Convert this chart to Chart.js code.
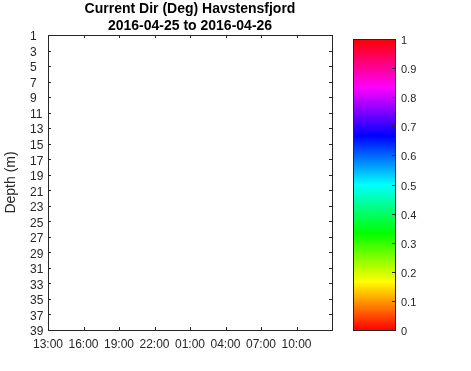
<!DOCTYPE html>
<html lang="en">
<head>
  <meta charset="UTF-8">
  <title>Current Dir (Deg) Havstensfjord</title>
  <script src="https://cdn.jsdelivr.net/npm/chart.js"></script>
  <style>
    html, body { margin: 0; padding: 0; background: #fff; }
    .wrap { position: relative; width: 471px; height: 371px; }
    #dirChart { position: absolute; left: 0; top: 0; }
    #cbarChart { position: absolute; left: 340px; top: 0; }
  </style>
</head>
<body>
  <div class="wrap">
    <canvas id="dirChart" width="471" height="371"></canvas>
    <canvas id="cbarChart" width="131" height="371"></canvas>
  </div>
  <script>
    // depth bins (m), hours after 13:00 on 2016-04-25, and tick labels
    const depths = [1, 3, 5, 7, 9, 11, 13, 15, 17, 19, 21, 23, 25, 27, 29, 31, 33, 35, 37, 39];
    const timeTicks = [0, 3, 6, 9, 12, 15, 18, 21, 24];
    const timeLabels = ['13:00', '16:00', '19:00', '22:00', '01:00', '04:00', '07:00', '10:00'];
    // no current direction values in this period
    const dirValues = [];
    const cbarTicks = [0, 0.1, 0.2, 0.3, 0.4, 0.5, 0.6, 0.7, 0.8, 0.9, 1];
    const hsvStops = ['#ff0000', '#ffff00', '#00ff00', '#00ffff', '#0000ff', '#ff00ff', '#ff0000'];

    const ink = '#262626';
    const font = 'Liberation Sans, Arial, Helvetica, sans-serif';

    // box around plot area with matlab-style inward ticks
    const boxPlugin = {
      id: 'box',
      afterDraw(chart, args, opts) {
        const { ctx, chartArea: a } = chart;
        ctx.save();
        ctx.strokeStyle = ink;
        ctx.lineWidth = 1;
        ctx.strokeRect(Math.round(a.left) + 0.5, Math.round(a.top) + 0.5,
          Math.round(a.right - a.left), Math.round(a.bottom - a.top));
        const len = 3;
        ctx.beginPath();
        if (opts.x) {
          const xs = chart.scales.x;
          xs.ticks.forEach(t => {
            if (t.value <= xs.min || t.value >= xs.max) return;
            const px = Math.round(xs.getPixelForValue(t.value)) + 0.5;
            ctx.moveTo(px, a.bottom); ctx.lineTo(px, a.bottom - len);
            ctx.moveTo(px, a.top); ctx.lineTo(px, a.top + len);
          });
        }
        const ys = chart.scales.y;
        ys.ticks.forEach(t => {
          if (t.value <= ys.min || t.value >= ys.max) return;
          const py = Math.round(ys.getPixelForValue(t.value)) + 0.5;
          if (opts.left) { ctx.moveTo(a.left, py); ctx.lineTo(a.left + len, py); }
          ctx.moveTo(a.right, py); ctx.lineTo(a.right - len, py);
        });
        ctx.stroke();
        if (opts.yTitle) {
          ctx.fillStyle = ink;
          ctx.font = '14px ' + font;
          ctx.textAlign = 'center';
          ctx.textBaseline = 'middle';
          ctx.translate(11, (a.top + a.bottom) / 2);
          ctx.rotate(-Math.PI / 2);
          ctx.fillText(opts.yTitle, 0, 0);
        }
        ctx.restore();
      }
    };

    new Chart(document.getElementById('dirChart'), {
      type: 'scatter',
      data: {
        datasets: [{
          label: 'Current Dir (Deg)',
          data: dirValues,
          pointRadius: 2
        }]
      },
      plugins: [boxPlugin],
      options: {
        responsive: false,
        animation: false,
        layout: { padding: { left: 30, right: 139, top: 0, bottom: 0 } },
        plugins: {
          legend: { display: false },
          tooltip: { enabled: false },
          title: {
            display: true,
            fullSize: false,
            text: ['Current Dir (Deg) Havstensfjord', '2016-04-25 to 2016-04-26'],
            color: '#000',
            font: { family: font, size: 14, weight: 'bold', lineHeight: 17 / 14 },
            padding: { top: 1, bottom: 0 }
          },
          box: { x: true, left: true, yTitle: 'Depth (m)' }
        },
        scales: {
          x: {
            type: 'linear',
            min: timeTicks[0],
            max: timeTicks[timeTicks.length - 1],
            afterBuildTicks: s => { s.ticks = timeTicks.map(v => ({ value: v })); },
            afterFit: s => { s.height = 41; },
            grid: { display: false, drawTicks: false },
            border: { display: false },
            ticks: {
              color: ink,
              font: { family: font, size: 12 },
              padding: 7,
              maxRotation: 0,
              autoSkip: false,
              callback: (v, i) => timeLabels[i] ?? ''
            }
          },
          y: {
            type: 'linear',
            reverse: true,
            min: depths[0],
            max: depths[depths.length - 1],
            afterBuildTicks: s => { s.ticks = depths.map(v => ({ value: v })); },
            afterFit: s => { s.width = 18; },
            grid: { display: false, drawTicks: false },
            border: { display: false },
            ticks: {
              color: ink,
              font: { family: font, size: 12 },
              crossAlign: 'far',
              labelOffset: 2,
              autoSkip: false
            }
          }
        }
      }
    });

    new Chart(document.getElementById('cbarChart'), {
      type: 'bar',
      data: {
        labels: [''],
        datasets: [{
          data: [cbarTicks[cbarTicks.length - 1]],
          base: cbarTicks[0],
          barPercentage: 1,
          categoryPercentage: 1,
          backgroundColor: ctx => {
            const a = ctx.chart.chartArea;
            if (!a) return hsvStops[0];
            const g = ctx.chart.ctx.createLinearGradient(0, a.bottom, 0, a.top);
            hsvStops.forEach((c, i) => g.addColorStop(i / (hsvStops.length - 1), c));
            return g;
          }
        }]
      },
      plugins: [boxPlugin],
      options: {
        responsive: false,
        animation: false,
        layout: { padding: { left: 13, right: 0, top: 39, bottom: 41 } },
        plugins: {
          legend: { display: false },
          tooltip: { enabled: false },
          box: { x: false, left: false }
        },
        scales: {
          x: { display: false },
          y: {
            position: 'right',
            min: cbarTicks[0],
            max: cbarTicks[cbarTicks.length - 1],
            afterBuildTicks: s => { s.ticks = cbarTicks.map(v => ({ value: v })); },
            afterFit: s => { s.width = 76; },
            grid: { display: false, drawTicks: false },
            border: { display: false },
            ticks: {
              color: ink,
              font: { family: font, size: 11 },
              padding: 6,
              labelOffset: 2,
              autoSkip: false,
              callback: v => String(v)
            }
          }
        }
      }
    });
  </script>
</body>
</html>
